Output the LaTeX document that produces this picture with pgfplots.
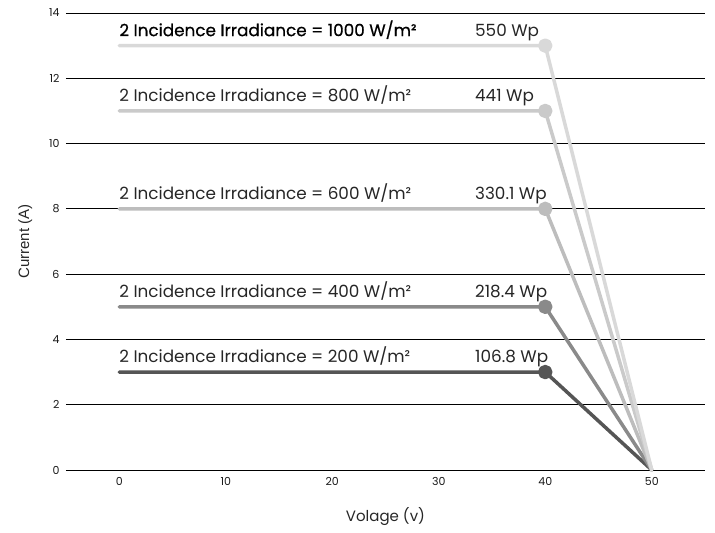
\documentclass[border=0pt]{standalone}
\usepackage{pgfplots}
\pgfplotsset{compat=1.18}
\usepackage{fontspec}
\setmainfont{Poppins}
\newfontfamily\pmed[FakeBold=0.6]{Poppins}
\newfontfamily\lib{Liberation Sans}
\definecolor{c1000}{HTML}{D9D9D9}
\definecolor{c800}{HTML}{CACACA}
\definecolor{c600}{HTML}{BDBDBD}
\definecolor{c400}{HTML}{8A8A8A}
\definecolor{c200}{HTML}{555555}
\begin{document}
\begin{tikzpicture}
\begin{axis}[
  scale only axis,
  width=639bp, height=457bp,
  xmin=-5, xmax=55, ymin=0, ymax=14,
  axis line style={draw=none},
  xtick={0,10,20,30,40,50},
  ytick={0,2,4,6,8,10,12,14},
  major tick length=0pt,
  ymajorgrids,
  grid style={black, line width=0.8bp},
  /pgf/number format/assume math mode=true,
  ticklabel style={font=\fontsize{11bp}{12bp}\selectfont, text=black!90},
  xticklabel style={yshift=-4bp},
  yticklabel style={xshift=-3bp},
  xlabel={Volage (v)},
  ylabel={\lib Current (A)},
  xlabel style={font=\fontsize{15bp}{17bp}\selectfont, text=black!85, yshift=-15bp},
  ylabel style={font=\fontsize{15bp}{17bp}\selectfont, text=black!85, yshift=10bp},
  every axis plot/.append style={line width=3.5bp, line join=round, line cap=round},
  mark options={solid, scale=1},
  clip=false,
]
\addplot[c200, mark=*, mark size=5.5bp, mark indices={5}] coordinates {(0,3) (10,3) (20,3) (30,3) (40,3) (50,0)};
\addplot[c400, mark=*, mark size=5.5bp, mark indices={5}] coordinates {(0,5) (10,5) (20,5) (30,5) (40,5) (50,0)};
\addplot[c600, mark=*, mark size=5.5bp, mark indices={5}] coordinates {(0,8) (10,8) (20,8) (30,8) (40,8) (50,0)};
\addplot[c800, mark=*, mark size=5.5bp, mark indices={5}] coordinates {(0,11) (10,11) (20,11) (30,11) (40,11) (50,0)};
\addplot[c1000, mark=*, mark size=5.5bp, mark indices={5}] coordinates {(0,13) (10,13) (20,13) (30,13) (40,13) (50,0)};
\begin{scope}[every node/.style={font=\fontsize{16.8bp}{19bp}\selectfont, text=black!85, anchor=base west, inner sep=0pt, yshift=9.5bp}]
\node[font=\fontsize{16.8bp}{19bp}\pmed, text=black] at (axis cs:0,13) {2 Incidence Irradiance = 1000 W/m²};
\node at (axis cs:0,11) {2 Incidence Irradiance = 800 W/m²};
\node at (axis cs:0,8) {2 Incidence Irradiance = 600 W/m²};
\node at (axis cs:0,5) {2 Incidence Irradiance = 400 W/m²};
\node at (axis cs:0,3) {2 Incidence Irradiance = 200 W/m²};
\node at (axis cs:33.4,13) {550 Wp};
\node at (axis cs:33.4,11) {441 Wp};
\node at (axis cs:33.4,8) {330.1 Wp};
\node at (axis cs:33.4,5) {218.4 Wp};
\node at (axis cs:33.4,3) {106.8 Wp};
\end{scope}
\coordinate (BL) at (rel axis cs:0,0);
\coordinate (TR) at (rel axis cs:1,1);
\end{axis}
\path (BL) ++(-66bp,-62bp) coordinate (P1);
\path (TR) ++(10bp,13bp) coordinate (P2);
\path (P1) rectangle (P2);
\end{tikzpicture}
\end{document}
